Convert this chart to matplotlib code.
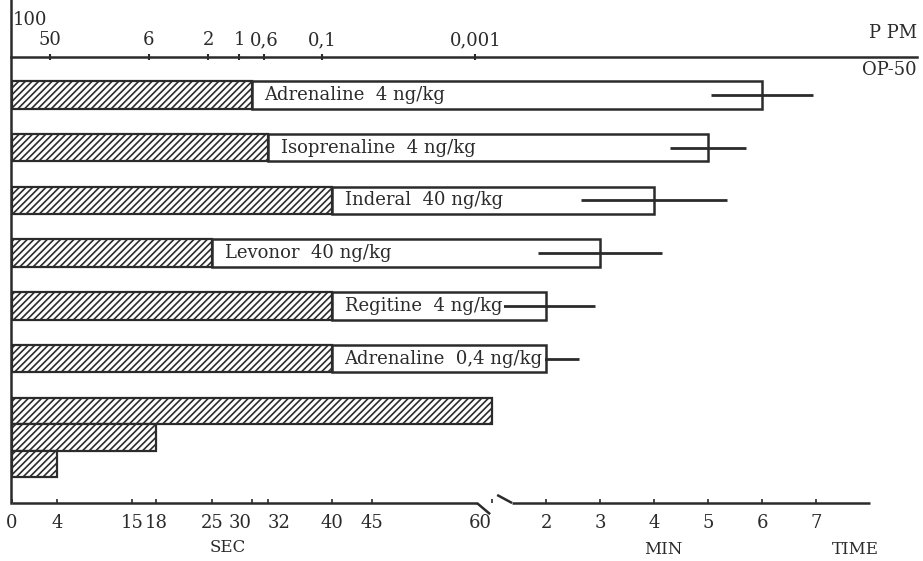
import numpy as np
import matplotlib
matplotlib.use("Agg")
import matplotlib.pyplot as plt
import matplotlib.transforms as mtransforms

# drug rows: hatched part = latency (sec), open part = duration (min) with spread
drugs = ["Adrenaline  4 ng/kg", "Isoprenaline  4 ng/kg", "Inderal  40 ng/kg",
         "Levonor  40 ng/kg", "Regitine  4 ng/kg", "Adrenaline  0,4 ng/kg"]
latency_sec = [30, 32, 40, 25, 40, 40]
duration_min = [6, 5, 4, 3, 2, 2]
duration_err_min = [0.95, 0.7, 1.35, 1.15, 0.9, 0.6]

# OP-50 alone (bottom bars), seconds
op50_sec = [60, 18, 4]

# time axis ticks
sec_ticks = [0, 4, 15, 18, 25, 30, 32, 40, 45, 60]
min_ticks = [2, 3, 4, 5, 6, 7]

# ppm scale on top, and the time (sec) each mark sits over
ppm_labels = ["50", "6", "2", "1", "0,6", "0,1", "0,001"]
ppm_at_sec = [3.4, 17.1, 24.5, 28.4, 31.5, 38.75, 57.9]

# broken time axis: seconds up to 60, then minutes squeezed in
t_knots = np.array([-60.0, 0.0, 4.0, 15.0, 60.0, 1200.0])
u_knots = np.array([-60.0, 0.0, 5.6, 15.0, 60.0, 188.25])
def fwd(t):
    return np.interp(t, t_knots, u_knots)
def inv(u):
    return np.interp(u, u_knots, t_knots)

ink = "#2b2b2b"
plt.rcParams['font.family'] = ['DejaVu Serif']
plt.rcParams['hatch.linewidth'] = 1.2
fs = 13

fig = plt.figure(figsize=(9.23, 5.61), dpi=100)
ax = fig.add_axes([11/923, 58/561, 906/923, 446/561])
ax.set_xscale('function', functions=(fwd, inv))
ax.set_xlim(-0.125, 532)
ax.set_ylim(7.74, -0.72)

y_drug = np.arange(len(drugs))
y_op = np.array([6.0, 6.5, 7.0])
lat = np.array(latency_sec, dtype=float)
dur = np.array(duration_min) * 60.0
err = np.array(duration_err_min) * 60.0

#hatched latency bars
ax.barh(y_drug, lat, height=0.52, color='white', edgecolor=ink, hatch='/////', lw=1.6, zorder=2)
ax.barh(y_op, op50_sec, height=0.5, color='white', edgecolor=ink, hatch='/////', lw=1.6, zorder=2)
#open duration bars
ax.barh(y_drug, dur - lat, left=lat, height=0.52, color='white', edgecolor=ink, lw=1.8, zorder=2)
ax.errorbar(dur, y_drug, xerr=err, fmt='none', ecolor=ink, elinewidth=2, capsize=0, zorder=3)

for name, x, y in zip(drugs, lat, y_drug):
    ax.annotate(name, (x, y), xytext=(9, 0), textcoords='offset points', va='center', ha='left',
                fontsize=fs, color=ink, zorder=4,
                bbox=dict(boxstyle='square,pad=0.1', fc='white', ec='none'))

# bottom axis with break
for s in ['bottom', 'left', 'right']:
    ax.spines[s].set_visible(False)
ax.spines['top'].set_linewidth(1.8)
ax.spines['top'].set_color(ink)
trans = mtransforms.blended_transform_factory(ax.transData, ax.transAxes)
lk = dict(transform=trans, color=ink, lw=1.8, clip_on=False, solid_capstyle='butt')
ax.plot([0, 58.1], [0, 0], **lk)
ax.plot([58.1, 59.75], [0, -0.025], **lk)
ax.plot([65.6, 82.2], [0.018, 0], **lk)
ax.plot([82.2, 480], [0, 0], **lk)
ax.plot([0, 0], [0, 1.128], transform=ax.transAxes, color=ink, lw=1.8, clip_on=False)

ax.set_xticks(sec_ticks + [m * 60 for m in min_ticks])
ax.set_xticklabels([str(s) for s in sec_ticks] + [str(m) for m in min_ticks])
ax.tick_params(axis='x', direction='in', length=3, width=1.2, color=ink, pad=8,
               labelsize=fs, labelcolor=ink)
# crowded labels nudged aside like on the original
for lab in ax.get_xticklabels():
    if lab.get_text() in ('30', '60'):
        lab.set_horizontalalignment('right')
    elif lab.get_text() == '32':
        lab.set_horizontalalignment('left')
ax.set_yticks([])

# top ppm scale
ax2 = ax.twiny()
ax2.set_xscale('function', functions=(fwd, inv))
ax2.set_xlim(ax.get_xlim())
for s in ax2.spines.values():
    s.set_visible(False)
ax2.set_xticks(ppm_at_sec)
ax2.set_xticklabels(ppm_labels)
ax2.tick_params(axis='x', direction='inout', length=5, width=1.5, color=ink, pad=3,
                labelsize=fs, labelcolor=ink)

fig.text(13/923, 1 - 20/561, "100", fontsize=fs, color=ink, va='center', ha='left')
fig.text(917/923, 1 - 33/561, "P PM", fontsize=fs, color=ink, va='center', ha='right')
fig.text(917/923, 1 - 70/561, "OP-50", fontsize=fs, color=ink, va='center', ha='right')
fig.text(228/923, 1 - 548/561, "SEC", fontsize=fs - 1, color=ink, va='center', ha='center')
fig.text(663/923, 1 - 550/561, "MIN", fontsize=fs - 1, color=ink, va='center', ha='center')
fig.text(855/923, 1 - 550/561, "TIME", fontsize=fs - 1, color=ink, va='center', ha='center')

plt.savefig('out.png', dpi=100)
